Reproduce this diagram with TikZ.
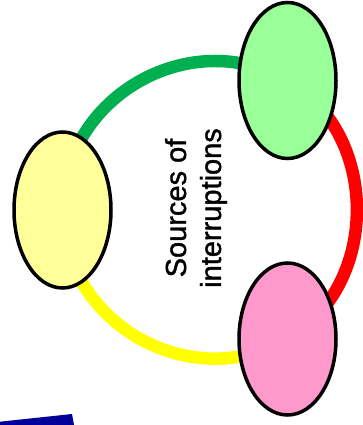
\documentclass[tikz,border=0pt]{standalone}
\usepackage{fontspec}
\setmainfont{Liberation Sans}
\newfontfamily\titlefont[FakeBold=1.3]{Liberation Sans}
\usetikzlibrary{shapes.geometric,backgrounds}

\definecolor{ringgreen}{RGB}{0,176,80}
\definecolor{ringred}{RGB}{255,0,0}
\definecolor{ringyellow}{RGB}{255,255,0}
\definecolor{srcyellow}{RGB}{255,255,153}
\definecolor{srcgreen}{RGB}{153,255,153}
\definecolor{srcpink}{RGB}{255,153,204}
\definecolor{barblue}{RGB}{0,0,153}

\begin{document}
\begin{tikzpicture}[x=1pt, y=-1pt]
    \tikzset{src/.style={ellipse, draw=black, line width=3.5pt,
             minimum width=97pt, minimum height=156pt, inner sep=0pt},
             ring/.style={line width=12.5pt, bend left=60}}
    \useasboundingbox (0,0) rectangle (363,425);
    \node[src, fill=srcyellow] (yel) at (62.5,210) {};
    \node[src, fill=srcgreen]  (grn) at (287.5,80.5) {};
    \node[src, fill=srcpink, minimum height=152pt] (pnk) at (287.5,339) {};
    \node[rotate=90, align=center, font=\titlefont\fontsize{29}{35}\selectfont] (title)
      at (196,208) {Sources of\\interruptions};
    \begin{scope}[on background layer]
      \draw[ring, ringgreen, looseness=1.11] (yel.center) to (grn.center);
      \draw[ring, ringred, looseness=1.06] (grn.center) to (pnk.center);
      \draw[ring, ringyellow, looseness=1.11] (pnk.center) to (yel.center);
    \end{scope}
    \fill[barblue] (0,421.7) -- (72,414) -- (74,425) -- (0,425) -- cycle;
\end{tikzpicture}
\end{document}
